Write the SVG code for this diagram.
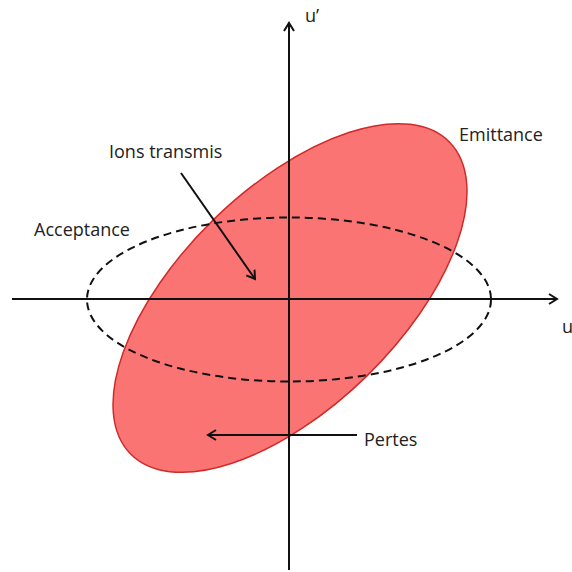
<svg xmlns="http://www.w3.org/2000/svg" width="572" height="572" viewBox="0 0 572 572">
<style>
.lbl{font-family:"Open Sans","Liberation Sans",sans-serif;font-size:18px;fill:#222}
.ax{stroke:#111;stroke-width:2;fill:none}
.ptr{stroke:#111;stroke-width:2;fill:none}
</style>
<defs>
<marker id="ah" markerWidth="12" markerHeight="12" refX="10" refY="6" orient="auto" markerUnits="userSpaceOnUse">
<path d="M2,1 L10,6 L2,11" fill="none" stroke="#111" stroke-width="2"/>
</marker>
</defs>
<rect width="572" height="572" fill="#fff"/>
<g id="emittance">
<ellipse cx="290" cy="298" rx="223" ry="109.5" transform="rotate(-44.3 290 298)" fill="#fb7474" stroke="#d02a2a" stroke-width="1.5"/>
<text class="lbl" x="459" y="141">Emittance</text>
</g>
<g id="axes">
<line class="ax" x1="12" y1="299" x2="557" y2="299" marker-end="url(#ah)"/>
<line class="ax" x1="289" y1="570" x2="289" y2="23" marker-end="url(#ah)"/>
<text class="lbl" x="305" y="22" font-size="16">u’</text>
<text class="lbl" x="562" y="333" font-size="16">u</text>
</g>
<g id="acceptance">
<ellipse cx="289" cy="299.5" rx="202" ry="82" fill="none" stroke="#111" stroke-width="2" stroke-dasharray="8,5"/>
<text class="lbl" x="34" y="236">Acceptance</text>
</g>
<g id="connectors">
<line class="ptr" x1="181" y1="173" x2="255" y2="279" marker-end="url(#ah)"/>
<line class="ptr" x1="357" y1="435" x2="208" y2="435" marker-end="url(#ah)"/>
</g>
<g id="ions">
<text class="lbl" x="109" y="158">Ions transmis</text>
</g>
<g id="pertes">
<text class="lbl" x="364" y="446">Pertes</text>
</g>
</svg>
